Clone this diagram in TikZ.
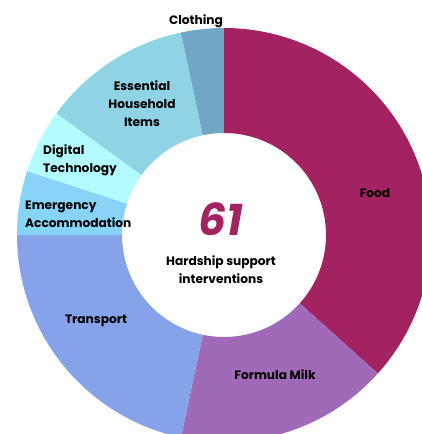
\documentclass[tikz,border=0pt]{standalone}
\usepackage{fontspec}
\setmainfont{Poppins}
\usepackage{xcolor}
\usepackage{tikz}
\usetikzlibrary{positioning}

\definecolor{foodcol}{HTML}{A32262}
\definecolor{milkcol}{HTML}{A06AB8}
\definecolor{transportcol}{HTML}{86A2E8}
\definecolor{emergencycol}{HTML}{88D4F8}
\definecolor{digitalcol}{HTML}{B2FCFF}
\definecolor{householdcol}{HTML}{90D3E4}
\definecolor{clothingcol}{HTML}{70A6C6}

\tikzset{
    slicelabel/.style={font=\bfseries\fontsize{12.2}{18}\selectfont, align=center, inner sep=0pt},
}

\begin{document}
\begin{tikzpicture}[x=1pt, y=1pt]
    \useasboundingbox (-224,-199) rectangle (198,235);
    \clip (-224,-199) rectangle (198,235);

    % ring slices, clockwise from the top
    \fill [foodcol] (90:102) arc (90:-42:102) -- (-42:207) arc (-42:90:207) -- cycle;
    \fill [milkcol] (-42:102) arc (-42:-102:102) -- (-102:207) arc (-102:-42:207) -- cycle;
    \fill [transportcol] (-102:102) arc (-102:-180:102) -- (-180:207) arc (-180:-102:207) -- cycle;
    \fill [emergencycol] (180:102) arc (180:162:102) -- (162:207) arc (162:180:207) -- cycle;
    \fill [digitalcol] (162:102) arc (162:144:102) -- (144:207) arc (144:162:207) -- cycle;
    \fill [householdcol] (144:102) arc (144:102:102) -- (102:207) arc (102:144:207) -- cycle;
    \fill [clothingcol] (102:102) arc (102:90:102) -- (90:207) arc (90:102:207) -- cycle;

    % centre
    \node [font=\bfseries\itshape\fontsize{44}{44}\selectfont, text=foodcol, inner sep=0pt] (total) at (-3,16) {61};
    \node [slicelabel, below=20pt of total] (caption) {Hardship support\\interventions};

    % slice labels
    \node [slicelabel] (clothing) at (-28,214) {Clothing};
    \node [slicelabel] (household) at (-82,131) {Essential\\Household\\Items};
    \node [slicelabel, align=left, anchor=west] (digital) at (-181,75) {Digital\\Technology};
    \node [slicelabel, align=left, anchor=west] (emergency) at (-199,21) {Emergency\\Accommodation};
    \node [slicelabel] (transport) at (-128,-86) {Transport};
    \node [slicelabel] (milk) at (51,-140) {Formula Milk};
    \node [slicelabel] (food) at (151,42) {Food};
\end{tikzpicture}
\end{document}
